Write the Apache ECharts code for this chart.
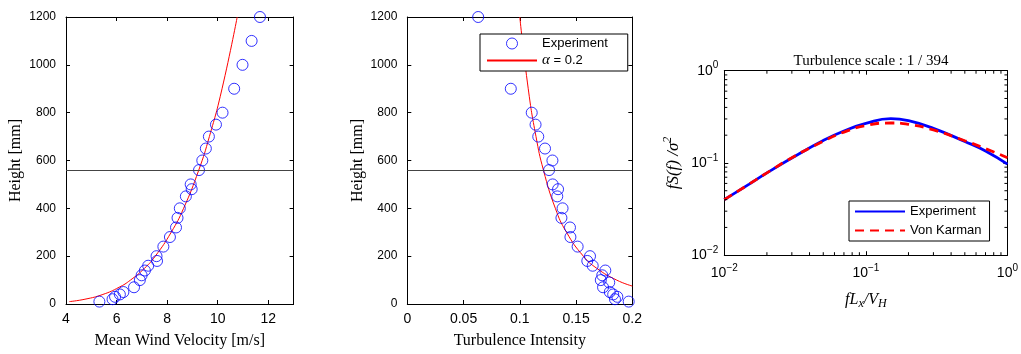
<!DOCTYPE html>
<html>
<head>
<meta charset="utf-8">
<script src="https://cdn.jsdelivr.net/npm/echarts@6/dist/echarts.min.js"></script>
<style>
    html, body { margin: 0; padding: 0; background: #fff; }
    #chart { width: 1021px; height: 354px; }
</style>
</head>
<body>
<div id="chart"></div>
<script>
// 平均风速剖面 (实验点)
var velHeights = [10, 20, 30, 40, 50, 70, 100, 120, 140, 160, 180, 200, 240, 280, 320, 360, 400, 450, 480, 500, 560, 600, 650, 700, 750, 800, 900, 1000, 1100, 1200];
var velMeasured = [5.32, 5.84, 5.94, 6.13, 6.27, 6.69, 6.92, 6.99, 7.12, 7.25, 7.6, 7.58, 7.85, 8.11, 8.35, 8.41, 8.5, 8.74, 8.97, 8.93, 9.26, 9.39, 9.53, 9.65, 9.93, 10.19, 10.65, 10.98, 11.34, 11.67];
// alpha = 0.2 曲线
var velCurveHeights = [10, 20, 40, 70, 100, 150, 200, 300, 400, 560, 700, 900, 1200];
var velCurve = [4.13, 4.75, 5.46, 6.10, 6.55, 7.11, 7.53, 8.16, 8.65, 9.25, 9.67, 10.17, 10.77];

// 湍流强度
var tiHeights = [10, 20, 30, 40, 50, 70, 90, 100, 120, 140, 160, 180, 200, 240, 280, 320, 360, 400, 450, 480, 500, 560, 600, 650, 700, 750, 800, 900, 1200];
var tiMeasured = [0.1968, 0.1846, 0.1867, 0.183, 0.180, 0.174, 0.1795, 0.172, 0.1733, 0.176, 0.1648, 0.160, 0.1624, 0.1514, 0.145, 0.1446, 0.137, 0.138, 0.1333, 0.134, 0.1292, 0.126, 0.129, 0.1224, 0.1164, 0.114, 0.1106, 0.092, 0.063];
var tiCurveHeights = [75, 100, 150, 200, 300, 400, 560, 700, 900, 1200];
var tiCurve = [0.200, 0.1861, 0.1682, 0.1565, 0.1415, 0.1316, 0.121, 0.1144, 0.1075, 0.100];

// 基准高度
var refHeight = 560;

// 功率谱
var freq = [0.01, 0.015, 0.02, 0.03, 0.05, 0.07, 0.1, 0.15, 0.2, 0.3, 0.5, 0.7, 1];
var specExp = [0.040, 0.059, 0.078, 0.113, 0.175, 0.222, 0.268, 0.302, 0.287, 0.237, 0.171, 0.135, 0.097];
var specKarman = [0.040, 0.059, 0.078, 0.114, 0.172, 0.216, 0.255, 0.271, 0.262, 0.228, 0.174, 0.143, 0.114];

var velTicks = { min: 4, max: 13, interval: 2 };
var heightTicks = { min: 0, max: 1200, interval: 200 };
var tiTicks = { min: 0, max: 0.2, interval: 0.05 };
var logTicks = { min: 0.01, max: 1 };
// 对数轴次刻度
var logMinorTicks = [0.02, 0.03, 0.04, 0.05, 0.06, 0.07, 0.08, 0.09, 0.2, 0.3, 0.4, 0.5, 0.6, 0.7, 0.8, 0.9];

var chart = echarts.init(document.getElementById('chart'));

var serif = 'Liberation Serif';
var sans = 'Liberation Sans';

var zip = function(xs, ys) {
    var out = [];
    for (var i = 0; i < xs.length; i++) {
        out.push([xs[i], ys[i]]);
    }
    return out;
};

var axisBase = function(extra) {
    var a = {
        axisLine: { show: true, onZero: false, lineStyle: { color: '#000', width: 1 } },
        axisTick: { show: true, inside: true, length: 4, lineStyle: { color: '#000' } },
        axisLabel: { color: '#000', fontFamily: sans, fontSize: 12 },
        splitLine: { show: false }
    };
    for (var k in extra) a[k] = extra[k];
    return a;
};

// 上/右侧镜像坐标轴, 只画边框和刻度
var mirror = function(gridIndex, pos, ticks, type) {
    var a = axisBase({
        gridIndex: gridIndex,
        position: pos,
        type: type || 'value',
        min: ticks.min,
        max: ticks.max
    });
    if (ticks.interval) a.interval = ticks.interval;
    a.axisLabel = { show: false };
    return a;
};

var logLabel = function(value) {
    var e = Math.round(Math.log10(value));
    return '{b|10}{s|' + (e < 0 ? '\u2212' + (-e) : e) + '}';
};
var logRich = {
    b: { fontFamily: sans, fontSize: 14, color: '#000', lineHeight: 20 },
    s: { fontFamily: sans, fontSize: 10, color: '#000', lineHeight: 12, verticalAlign: 'top' }
};

var tickStyle = { stroke: '#000', lineWidth: 1 };

// 次刻度: 在对数坐标上画短线
var minorTickSeries = function(dim) {
    return {
        type: 'custom',
        xAxisIndex: 2,
        yAxisIndex: 2,
        silent: true,
        clip: false,
        z: 5,
        data: zip(logMinorTicks, logMinorTicks),
        renderItem: function(params, api) {
            var v = api.value(dim);
            var a, b;
            if (dim === 0) {
                a = api.coord([v, logTicks.min]);
                b = api.coord([v, logTicks.max]);
                return { type: 'group', children: [
                    { type: 'line', shape: { x1: a[0], y1: a[1], x2: a[0], y2: a[1] - 3 }, style: tickStyle },
                    { type: 'line', shape: { x1: b[0], y1: b[1], x2: b[0], y2: b[1] + 3 }, style: tickStyle }
                ] };
            }
            a = api.coord([logTicks.min, v]);
            b = api.coord([logTicks.max, v]);
            return { type: 'group', children: [
                { type: 'line', shape: { x1: a[0], y1: a[1], x2: a[0] + 3, y2: a[1] }, style: tickStyle },
                { type: 'line', shape: { x1: b[0], y1: b[1], x2: b[0] - 3, y2: b[1] }, style: tickStyle }
            ] };
        }
    };
};

var plainLabel = function(v) { return String(v); };

var circleStyle = { color: 'rgba(0,0,255,0)', borderColor: '#0000ff', borderWidth: 1 };

var option = {
    animation: false,
    backgroundColor: '#fff',
    title: {
        text: 'Turbulence scale : 1 / 394',
        left: 866,
        top: 49,
        textAlign: 'center',
        textStyle: { fontFamily: serif, fontSize: 15, fontWeight: 'normal', color: '#000' }
    },
    legend: [{
        left: 480,
        top: 34,
        orient: 'vertical',
        data: [
            { name: 'Experiment', icon: 'circle', itemStyle: { color: 'rgba(0,0,255,0)', borderColor: '#0000ff', borderWidth: 1 } },
            { name: '\u03b1 = 0.2', itemStyle: { opacity: 0, borderWidth: 0 } }
        ],
        itemWidth: 50,
        itemHeight: 11,
        itemGap: 3,
        padding: [3, 20, 3, 6],
        borderColor: '#000',
        borderWidth: 1,
        borderRadius: 0,
        backgroundColor: '#fff',
        textStyle: {
            fontFamily: sans,
            fontSize: 13,
            color: '#000',
            rich: { a: { fontFamily: serif, fontStyle: 'italic', fontSize: 15, color: '#000' } }
        },
        formatter: function(name) {
            return name === '\u03b1 = 0.2' ? '{a|\u03b1} = 0.2' : name;
        }
    }, {
        left: 849,
        top: 201,
        orient: 'vertical',
        data: [
            { name: 'Experiment ', itemStyle: { opacity: 0, borderWidth: 0 } },
            { name: 'Von Karman', itemStyle: { opacity: 0, borderWidth: 0 } }
        ],
        itemWidth: 50,
        itemHeight: 10,
        itemGap: 6,
        padding: [4, 8, 4, 5],
        borderColor: '#000',
        borderWidth: 1,
        borderRadius: 0,
        backgroundColor: '#fff',
        textStyle: { fontFamily: sans, fontSize: 13, color: '#000' }
    }],
    grid: [
        { left: 66, top: 17, width: 227.6, height: 288 },
        { left: 407.3, top: 17, width: 225, height: 288 },
        { left: 724.3, top: 70.7, width: 283.4, height: 184.5 }
    ],
    xAxis: [
        axisBase({
            gridIndex: 0, type: 'value', min: velTicks.min, max: velTicks.max, interval: velTicks.interval,
            name: 'Mean Wind Velocity [m/s]', nameLocation: 'middle', nameGap: 29,
            nameTextStyle: { fontFamily: serif, fontSize: 16, color: '#000' },
            axisLabel: { color: '#000', fontFamily: sans, fontSize: 14, margin: 8, showMaxLabel: false }
        }),
        axisBase({
            gridIndex: 1, type: 'value', min: tiTicks.min, max: tiTicks.max, interval: tiTicks.interval,
            name: 'Turbulence Intensity', nameLocation: 'middle', nameGap: 29,
            nameTextStyle: { fontFamily: serif, fontSize: 16, color: '#000' },
            axisLabel: { color: '#000', fontFamily: sans, fontSize: 14, margin: 8 }
        }),
        axisBase({
            gridIndex: 2, type: 'log', logBase: 10, min: logTicks.min, max: logTicks.max,
            name: '{i|fL}{sub|x}{i|/V}{sub|H}', nameLocation: 'middle', nameGap: 35,
            nameTextStyle: {
                rich: {
                    i: { fontFamily: serif, fontStyle: 'italic', fontSize: 16, color: '#000', lineHeight: 20 },
                    sub: { fontFamily: serif, fontStyle: 'italic', fontSize: 12, color: '#000', lineHeight: 12, verticalAlign: 'bottom' }
                }
            },
            axisLabel: { formatter: logLabel, rich: logRich, margin: 8 }
        }),
        mirror(0, 'top', velTicks),
        mirror(1, 'top', tiTicks),
        mirror(2, 'top', logTicks, 'log')
    ],
    yAxis: [
        axisBase({
            gridIndex: 0, type: 'value', min: heightTicks.min, max: heightTicks.max, interval: heightTicks.interval,
            name: 'Height [mm]', nameLocation: 'middle', nameGap: 42,
            nameTextStyle: { fontFamily: serif, fontSize: 16, color: '#000' },
            axisLabel: { color: '#000', fontFamily: sans, fontSize: 12, margin: 10, formatter: plainLabel }
        }),
        axisBase({
            gridIndex: 1, type: 'value', min: heightTicks.min, max: heightTicks.max, interval: heightTicks.interval,
            name: 'Height [mm]', nameLocation: 'middle', nameGap: 42,
            nameTextStyle: { fontFamily: serif, fontSize: 16, color: '#000' },
            axisLabel: { color: '#000', fontFamily: sans, fontSize: 12, margin: 10, formatter: plainLabel }
        }),
        axisBase({
            gridIndex: 2, type: 'log', logBase: 10, min: logTicks.min, max: logTicks.max,
            name: '{i|fS(f) /\u03c3}{s|2}', nameLocation: 'middle', nameGap: 40,
            nameTextStyle: {
                rich: {
                    i: { fontFamily: serif, fontStyle: 'italic', fontSize: 17, color: '#000', lineHeight: 22 },
                    s: { fontFamily: serif, fontStyle: 'italic', fontSize: 12, color: '#000', lineHeight: 12, verticalAlign: 'top' }
                }
            },
            axisLabel: { formatter: logLabel, rich: logRich, margin: 6 }
        }),
        mirror(0, 'right', heightTicks),
        mirror(1, 'right', heightTicks),
        mirror(2, 'right', logTicks, 'log')
    ],
    series: [{
        name: 'Experiment',
        type: 'scatter',
        xAxisIndex: 0,
        yAxisIndex: 0,
        symbol: 'circle',
        symbolSize: 11,
        clip: false,
        z: 3,
        itemStyle: circleStyle,
        data: zip(velMeasured, velHeights),
        markLine: {
            silent: true,
            symbol: 'none',
            label: { show: false },
            lineStyle: { color: '#444', width: 1.2, type: 'solid' },
            data: [{ yAxis: refHeight }]
        }
    }, {
        name: '\u03b1 = 0.2',
        type: 'line',
        xAxisIndex: 0,
        yAxisIndex: 0,
        smooth: true,
        showSymbol: false,
        symbol: 'none',
        lineStyle: { color: '#ff0000', width: 1 },
        itemStyle: { color: '#ff0000' },
        data: zip(velCurve, velCurveHeights)
    }, {
        name: 'Experiment',
        type: 'scatter',
        xAxisIndex: 1,
        yAxisIndex: 1,
        symbol: 'circle',
        symbolSize: 11,
        clip: false,
        z: 3,
        itemStyle: circleStyle,
        data: zip(tiMeasured, tiHeights),
        markLine: {
            silent: true,
            symbol: 'none',
            label: { show: false },
            lineStyle: { color: '#444', width: 1.2, type: 'solid' },
            data: [{ yAxis: refHeight }]
        }
    }, {
        name: '\u03b1 = 0.2',
        type: 'line',
        xAxisIndex: 1,
        yAxisIndex: 1,
        smooth: true,
        showSymbol: false,
        symbol: 'none',
        lineStyle: { color: '#ff0000', width: 1 },
        itemStyle: { color: '#ff0000' },
        data: zip(tiCurve, tiCurveHeights)
    }, {
        name: 'Experiment ',
        type: 'line',
        xAxisIndex: 2,
        yAxisIndex: 2,
        smooth: true,
        showSymbol: false,
        symbol: 'none',
        lineStyle: { color: '#0000ff', width: 2.8 },
        itemStyle: { color: '#0000ff' },
        data: zip(freq, specExp)
    }, {
        name: 'Von Karman',
        type: 'line',
        xAxisIndex: 2,
        yAxisIndex: 2,
        smooth: true,
        showSymbol: false,
        symbol: 'none',
        lineStyle: { color: '#ff0000', width: 2.8, type: [9, 6] },
        itemStyle: { color: '#ff0000' },
        data: zip(freq, specKarman)
    },
    minorTickSeries(0),
    minorTickSeries(1)]
};

chart.setOption(option);
</script>
</body>
</html>
